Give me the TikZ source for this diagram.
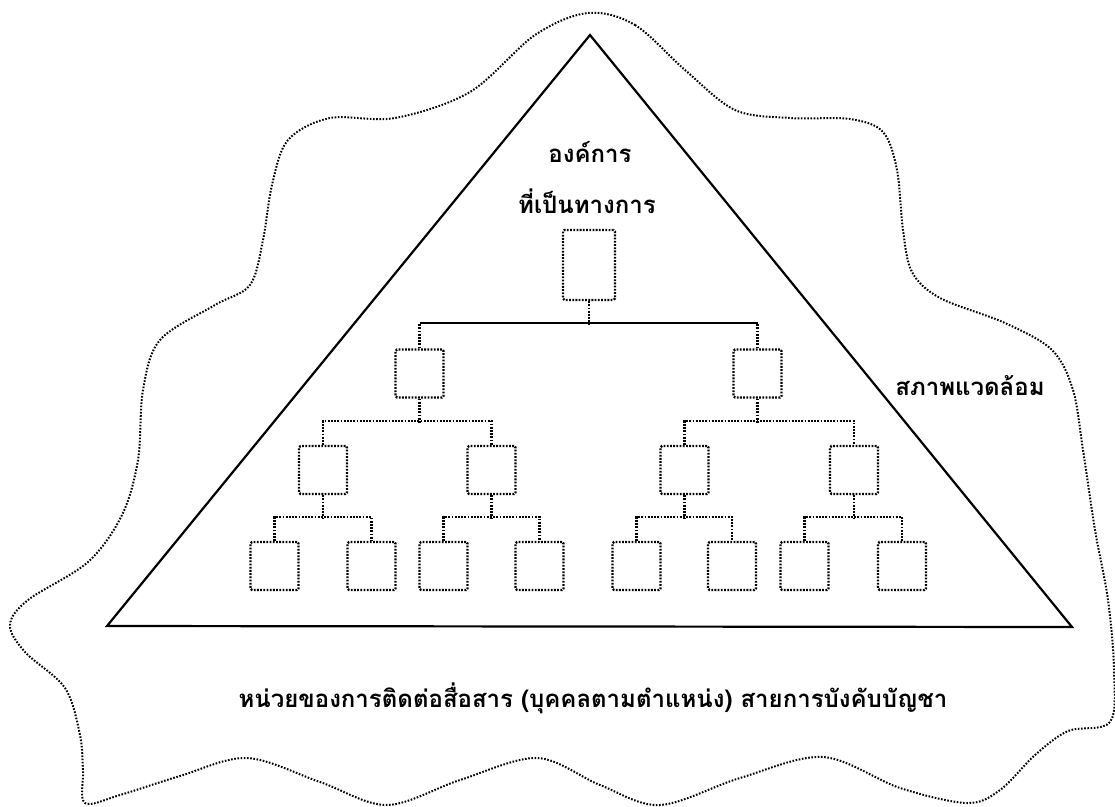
\documentclass[tikz,border=0pt]{standalone}
\usepackage{fontspec}
\newfontfamily\thaifont[Script=Thai]{Loma}

\tikzset{
  orgbox/.style={draw, line width=2.2pt, dash pattern=on 1.8pt off 1.4pt,
    rounded corners=1.5pt, inner sep=0pt, minimum width=48pt, minimum height=48pt},
  orgline/.style={line width=2.2pt, dash pattern=on 1.8pt off 1.4pt},
  thaitext/.style={font=\thaifont\bfseries\fontsize{24}{28}\selectfont, anchor=base, inner sep=0pt},
}

\begin{document}
\begin{tikzpicture}[x=1pt,y=-1pt]
      % \draw[help lines](0,0) grid (1115,806);
      \useasboundingbox (0,0) rectangle (1115,806);

      \draw[line width=2pt, dash pattern=on 1.6pt off 1.6pt] plot[smooth cycle, tension=0.55] coordinates {
        (588,13) (635,25) (685,70) (735,110) (790,118) (850,119) (883,132)
        (897,170) (903,230) (912,272) (940,298) (1005,323) (1052,350)
        (1073,390) (1083,450) (1095,530) (1108,600) (1114,670) (1110,722)
        (1068,731) (1035,755) (1000,790) (967,803) (900,788) (823,757)
        (740,778) (660,805) (600,785) (537,758) (460,780) (387,805)
        (320,782) (247,758) (180,776) (120,795) (85,803) (83,770) (80,735)
        (65,688) (25,652) (10,625) (28,600) (88,562) (122,515) (138,460)
        (143,390) (160,340) (215,305) (250,285) (263,240) (272,185)
        (288,140) (330,118) (395,118) (470,92) (535,35)};

      \coordinate (apex) at (590,35);
      \coordinate (left) at (107,626);
      \coordinate (right) at (1072,627);
      \draw[line width=2.2pt] (apex) -- (left) -- (right) -- cycle;

      \draw (590,162) node[thaitext] (org) {องค์การ};
      \draw (587,213) node[thaitext] (formal) {ที่เป็นทางการ};
      \draw (970,395) node[thaitext] (env) {สภาพแวดล้อม};
      \draw (593,707) node[thaitext] (chain) {หน่วยของการติดต่อสื่อสาร (บุคคลตามตำแหน่ง) สายการบังคับบัญชา};

      \draw (589,265) node[orgbox, minimum width=52pt, minimum height=70pt] (head) {};
      \draw (419.5,373.5) node[orgbox] (deptL) {};
      \draw (757.5,373.5) node[orgbox] (deptR) {};
      \draw (323,470) node[orgbox] (secL1) {};
      \draw (491.5,470) node[orgbox] (secL2) {};
      \draw (684.5,470) node[orgbox] (secR1) {};
      \draw (854,470) node[orgbox] (secR2) {};
      \draw (274.5,566) node[orgbox] (staff1) {};
      \draw (371.5,566) node[orgbox] (staff2) {};
      \draw (443.5,566) node[orgbox] (staff3) {};
      \draw (539.5,566) node[orgbox] (staff4) {};
      \draw (636.5,566) node[orgbox] (staff5) {};
      \draw (732,566) node[orgbox] (staff6) {};
      \draw (804.5,566) node[orgbox] (staff7) {};
      \draw (902,566) node[orgbox] (staff8) {};

      \draw[orgline] (head.south) -- ++(0,25);
      \draw[orgline] (deptL.north) -- ++(0,-25);
      \draw[orgline] (deptR.north) -- ++(0,-25);
      \draw[line width=2pt] ([yshift=25pt]deptL.north) -- ([yshift=25pt]deptR.north);

      \draw[orgline] (deptL.south) -- ++(0,24);
      \draw[orgline] (secL1.north) -- ++(0,-24) -| (secL2.north);
      \draw[orgline] (deptR.south) -- ++(0,24);
      \draw[orgline] (secR1.north) -- ++(0,-24) -| (secR2.north);

      \draw[orgline] (secL1.south) -- ++(0,24);
      \draw[orgline] (staff1.north) -- ++(0,-24) -| (staff2.north);
      \draw[orgline] (secL2.south) -- ++(0,24);
      \draw[orgline] (staff3.north) -- ++(0,-24) -| (staff4.north);
      \draw[orgline] (secR1.south) -- ++(0,24);
      \draw[orgline] (staff5.north) -- ++(0,-24) -| (staff6.north);
      \draw[orgline] (secR2.south) -- ++(0,24);
      \draw[orgline] (staff7.north) -- ++(0,-24) -| (staff8.north);
    \end{tikzpicture}
\end{document}
